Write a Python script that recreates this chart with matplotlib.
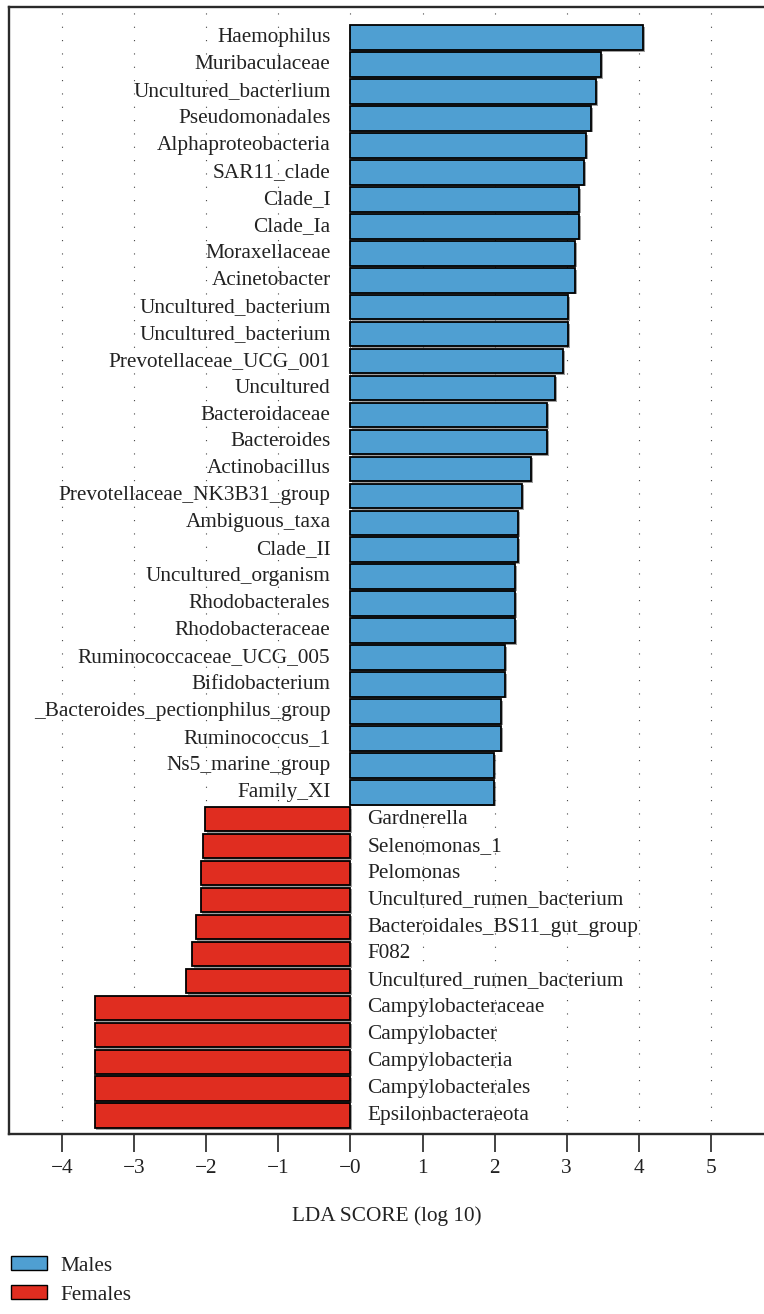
import matplotlib
matplotlib.use("Agg")
import matplotlib.pyplot as plt
import matplotlib.transforms as mtransforms
from matplotlib.patches import Patch
import matplotlib.patheffects as pe

male_taxa = ["Haemophilus", "Muribaculaceae", "Uncultured_bacterlium", "Pseudomonadales",
             "Alphaproteobacteria", "SAR11_clade", "Clade_I", "Clade_Ia", "Moraxellaceae",
             "Acinetobacter", "Uncultured_bacterium", "Uncultured_bacterium",
             "Prevotellaceae_UCG_001", "Uncultured", "Bacteroidaceae", "Bacteroides",
             "Actinobacillus", "Prevotellaceae_NK3B31_group", "Ambiguous_taxa", "Clade_II",
             "Uncultured_organism", "Rhodobacterales", "Rhodobacteraceae",
             "Ruminococcaceae_UCG_005", "Bifidobacterium", "_Bacteroides_pectionphilus_group",
             "Ruminococcus_1", "Ns5_marine_group", "Family_XI"]
male_lda = [4.06, 3.48, 3.41, 3.34, 3.27, 3.24, 3.17, 3.17, 3.12, 3.12, 3.02, 3.02,
            2.95, 2.84, 2.73, 2.73, 2.51, 2.38, 2.33, 2.33, 2.29, 2.29, 2.29,
            2.15, 2.15, 2.09, 2.09, 1.99, 1.99]

female_taxa = ["Gardnerella", "Selenomonas_1", "Pelomonas", "Uncultured_rumen_bacterium",
               "Bacteroidales_BS11_gut_group", "F082", "Uncultured_rumen_bacterium",
               "Campylobacteraceae", "Campylobacter", "Campylobacteria",
               "Campylobacterales", "Epsilonbacteraeota"]
female_lda = [-2.02, -2.05, -2.08, -2.08, -2.15, -2.20, -2.28,
              -3.55, -3.55, -3.55, -3.55, -3.55]

xticks = [-4, -3, -2, -1, 0, 1, 2, 3, 4, 5]
xticklabels = ["\u22124", "\u22123", "\u22122", "\u22121", "\u22120", "1", "2", "3", "4", "5"]
groups = ["Males", "Females"]

BLUE = "#4f9fd2"
RED = "#e02d20"
FONT = "Liberation Serif"
FS = 15.3

plt.rcParams["font.family"] = [FONT, "DejaVu Serif"]

fig = plt.figure(figsize=(7.64, 13.14), dpi=100)
W, H = 764, 1314
ax = fig.add_axes([9 / W, 1 - 1134 / H, 1 - 9 / W, (1134 - 7) / H])

n_m = len(male_taxa)
taxa = male_taxa + female_taxa
vals = male_lda + female_lda
ypos = list(range(len(taxa)))
colors = [BLUE] * n_m + [RED] * len(female_taxa)

for x in xticks:
    ax.axvline(x, color="#444444", lw=0.8, ls=(0, (1, 11)), zorder=0)

bars = ax.barh(ypos, vals, height=0.91, color=colors, edgecolor="black", linewidth=1.3,
               zorder=2)
for b in bars:
    b.set_path_effects([pe.SimplePatchShadow(offset=(1.2, -1.2), shadow_rgbFace="#777777", alpha=0.7),
                        pe.Normal()])

off_left = mtransforms.offset_copy(ax.transData, fig=fig, x=-20, y=0, units="dots")
off_right = mtransforms.offset_copy(ax.transData, fig=fig, x=17, y=0, units="dots")
for y, (t, v) in enumerate(zip(taxa, vals)):
    if v >= 0:
        ax.text(0, y, t, ha="right", va="center", fontsize=FS, color="#222222",
                transform=off_left, zorder=3)
    else:
        ax.text(0, y, t, ha="left", va="center", fontsize=FS, color="#222222",
                transform=off_right, zorder=3)

ax.set_xlim(-4.74, 5.74)
ax.set_ylim(len(taxa) - 1 + 0.68, -1.14)
ax.set_yticks([])
ax.set_xticks(xticks)
ax.set_xticklabels(xticklabels, fontsize=FS, color="#222222")
ax.tick_params(axis="x", direction="out", length=13, width=1.2, color="#222222", pad=5)
for s in ["left", "top", "bottom"]:
    ax.spines[s].set_linewidth(1.7)
    ax.spines[s].set_color("#2a2a2a")
ax.spines["right"].set_visible(False)
ax.set_xlabel("LDA SCORE (log 10)", fontsize=FS, color="#222222", labelpad=20)

handles = [Patch(facecolor=BLUE, edgecolor="black", linewidth=1.0, label=groups[0]),
           Patch(facecolor=RED, edgecolor="black", linewidth=1.0, label=groups[1])]
fig.legend(handles=handles, loc="upper left", bbox_to_anchor=(2 / W, 1 - 1248 / H),
           frameon=False, fontsize=FS, handlelength=1.7, handleheight=0.6,
           handletextpad=0.65, labelspacing=0.45, borderaxespad=0, labelcolor="#222222")

fig.savefig("out.png", dpi=100)
